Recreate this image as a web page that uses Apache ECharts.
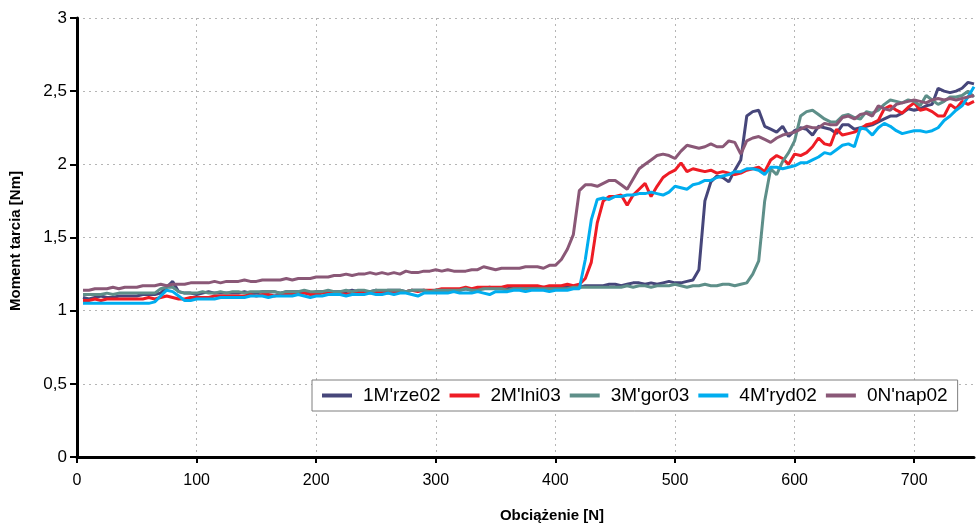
<!DOCTYPE html>
<html>
<head>
<meta charset="utf-8">
<script src="https://cdn.jsdelivr.net/npm/echarts@6/dist/echarts.min.js"></script>
<style>html,body{margin:0;padding:0;background:#fff}#c{width:976px;height:524px}</style>
</head>
<body>
<div id="c"></div>
<script>
const loads = [5,10,15,20,25,30,35,40,45,50,55,60,65,70,75,80,85,90,95,100,
105,110,115,120,125,130,135,140,145,150,155,160,165,170,175,180,185,190,195,200,
205,210,215,220,225,230,235,240,245,250,255,260,265,270,275,280,285,290,295,300,
305,310,315,320,325,330,335,340,345,350,355,360,365,370,375,380,385,390,395,400,
405,410,415,420,425,430,435,440,445,450,455,460,465,470,475,480,485,490,495,500,
505,510,515,520,525,530,535,540,545,550,555,560,565,570,575,580,585,590,595,600,
605,610,615,620,625,630,635,640,645,650,655,660,665,670,675,680,685,690,695,700,
705,710,715,720,725,730,735,740,745,750];

const rze02 = [1.09,1.08,1.09,1.1,1.09,1.09,1.1,1.1,1.1,1.1,1.11,1.11,1.11,1.12,1.16,1.2,1.13,1.12,1.12,1.11,
1.12,1.13,1.12,1.12,1.12,1.12,1.12,1.13,1.12,1.12,1.13,1.13,1.13,1.12,1.13,1.13,1.13,1.13,1.12,1.13,
1.13,1.13,1.13,1.13,1.13,1.14,1.13,1.13,1.13,1.14,1.13,1.14,1.14,1.14,1.13,1.14,1.14,1.14,1.13,1.14,
1.14,1.14,1.14,1.14,1.15,1.14,1.15,1.15,1.16,1.15,1.15,1.15,1.16,1.15,1.16,1.16,1.16,1.16,1.15,1.16,
1.16,1.16,1.16,1.16,1.17,1.17,1.17,1.17,1.18,1.18,1.17,1.18,1.19,1.19,1.18,1.19,1.18,1.19,1.2,1.19,
1.19,1.2,1.21,1.28,1.75,1.88,1.92,1.91,1.88,1.96,2.03,2.33,2.36,2.37,2.26,2.24,2.22,2.26,2.19,2.23,
2.25,2.24,2.2,2.26,2.25,2.24,2.21,2.27,2.27,2.24,2.25,2.26,2.27,2.29,2.31,2.33,2.33,2.35,2.38,2.37,
2.38,2.4,2.41,2.52,2.5,2.49,2.5,2.52,2.56,2.55];

const lni03 = [1.07,1.07,1.08,1.07,1.08,1.08,1.08,1.08,1.08,1.08,1.08,1.09,1.08,1.09,1.1,1.09,1.08,1.08,1.09,1.09,
1.09,1.09,1.1,1.1,1.1,1.1,1.1,1.1,1.11,1.1,1.11,1.11,1.1,1.11,1.11,1.11,1.11,1.12,1.11,1.11,
1.12,1.12,1.12,1.12,1.11,1.12,1.12,1.13,1.12,1.13,1.13,1.12,1.13,1.13,1.13,1.14,1.13,1.14,1.14,1.14,
1.15,1.15,1.15,1.15,1.16,1.15,1.16,1.16,1.16,1.16,1.16,1.17,1.17,1.17,1.17,1.17,1.17,1.16,1.17,1.17,
1.17,1.18,1.17,1.18,1.22,1.33,1.6,1.75,1.78,1.78,1.79,1.72,1.79,1.83,1.87,1.78,1.85,1.91,1.94,1.96,
2.01,1.95,1.97,1.96,1.95,1.96,1.94,1.95,1.94,1.93,1.94,1.96,1.97,1.98,1.95,2.03,2.06,2.04,2.0,2.07,
2.06,2.08,2.12,2.18,2.14,2.13,2.24,2.2,2.21,2.22,2.24,2.27,2.28,2.3,2.38,2.4,2.37,2.35,2.39,2.42,
2.37,2.38,2.36,2.33,2.33,2.41,2.38,2.43,2.41,2.43];

const gor03 = [1.11,1.11,1.11,1.11,1.12,1.11,1.12,1.12,1.12,1.12,1.12,1.12,1.12,1.15,1.16,1.16,1.13,1.12,1.12,1.12,
1.13,1.12,1.12,1.13,1.12,1.13,1.13,1.12,1.13,1.13,1.13,1.13,1.13,1.12,1.13,1.13,1.13,1.14,1.13,1.13,
1.13,1.14,1.13,1.13,1.14,1.13,1.14,1.14,1.13,1.14,1.14,1.14,1.14,1.14,1.13,1.14,1.14,1.14,1.13,1.14,
1.14,1.14,1.14,1.14,1.15,1.14,1.14,1.15,1.15,1.15,1.15,1.14,1.15,1.15,1.15,1.15,1.15,1.15,1.15,1.15,
1.15,1.15,1.16,1.16,1.16,1.16,1.16,1.16,1.16,1.16,1.16,1.17,1.16,1.17,1.17,1.16,1.17,1.17,1.17,1.18,
1.17,1.16,1.17,1.17,1.18,1.17,1.17,1.18,1.18,1.17,1.18,1.19,1.25,1.34,1.75,1.97,1.93,2.02,2.08,2.16,
2.33,2.36,2.37,2.34,2.31,2.29,2.29,2.33,2.34,2.32,2.31,2.36,2.35,2.37,2.41,2.44,2.43,2.42,2.44,2.43,
2.4,2.47,2.44,2.41,2.43,2.46,2.46,2.47,2.5,2.46];

const ryd02 = [1.05,1.05,1.05,1.05,1.05,1.05,1.05,1.05,1.05,1.05,1.05,1.05,1.06,1.1,1.14,1.13,1.1,1.07,1.07,1.08,
1.08,1.08,1.08,1.09,1.09,1.09,1.09,1.09,1.1,1.1,1.1,1.09,1.1,1.1,1.1,1.1,1.11,1.1,1.09,1.1,
1.1,1.11,1.11,1.11,1.1,1.11,1.11,1.11,1.12,1.11,1.11,1.12,1.11,1.12,1.12,1.11,1.1,1.12,1.12,1.12,
1.12,1.12,1.13,1.12,1.12,1.12,1.13,1.12,1.11,1.13,1.13,1.13,1.14,1.14,1.13,1.14,1.14,1.14,1.13,1.14,
1.14,1.14,1.15,1.15,1.35,1.62,1.76,1.77,1.76,1.78,1.78,1.79,1.79,1.8,1.8,1.81,1.8,1.79,1.81,1.85,
1.84,1.83,1.86,1.87,1.89,1.89,1.91,1.92,1.93,1.95,1.95,1.97,1.97,1.96,1.93,1.98,1.98,1.97,1.98,1.99,
2.01,2.01,2.03,2.05,2.08,2.07,2.1,2.13,2.14,2.12,2.25,2.24,2.2,2.25,2.28,2.26,2.23,2.21,2.22,2.23,
2.23,2.22,2.23,2.25,2.3,2.33,2.37,2.4,2.46,2.53];

const nap02 = [1.14,1.14,1.15,1.15,1.15,1.16,1.15,1.16,1.16,1.16,1.17,1.17,1.17,1.18,1.17,1.18,1.18,1.18,1.19,1.19,
1.19,1.19,1.2,1.19,1.2,1.2,1.2,1.21,1.2,1.2,1.21,1.21,1.21,1.21,1.22,1.21,1.22,1.22,1.22,1.23,
1.23,1.23,1.24,1.24,1.25,1.24,1.25,1.25,1.26,1.25,1.26,1.25,1.26,1.25,1.27,1.26,1.26,1.27,1.27,1.28,
1.27,1.28,1.27,1.27,1.27,1.28,1.28,1.3,1.29,1.28,1.29,1.29,1.29,1.29,1.3,1.3,1.3,1.29,1.31,1.31,
1.35,1.42,1.52,1.82,1.86,1.86,1.85,1.87,1.89,1.89,1.86,1.83,1.9,1.97,2.0,2.03,2.06,2.07,2.06,2.04,
2.09,2.13,2.12,2.11,2.12,2.14,2.12,2.12,2.16,2.15,2.07,2.16,2.18,2.19,2.17,2.15,2.18,2.2,2.21,2.22,
2.24,2.26,2.25,2.25,2.28,2.27,2.27,2.32,2.33,2.31,2.34,2.35,2.33,2.4,2.38,2.37,2.41,2.42,2.43,2.44,
2.43,2.42,2.44,2.45,2.44,2.45,2.44,2.45,2.46,2.47];

const seriesNames = ["1M'rze02", "2M'lni03", "3M'gor03", "4M'ryd02", "0N'nap02"];
const seriesValues = [rze02, lni03, gor03, ryd02, nap02];
const seriesColors = ['#46467a', '#ee1c25', '#5e8f89', '#00adef', '#8a5877'];
const xTicks = [0, 100, 200, 300, 400, 500, 600, 700];

const chart = echarts.init(document.getElementById('c'), null, {renderer: 'canvas'});
const FONT = "'Liberation Sans', Arial, sans-serif";

chart.setOption({
  animation: false,
  backgroundColor: '#ffffff',
  grid: {left: 77, right: 2, top: 18, bottom: 67, containLabel: false},
  legend: {
    data: seriesNames,
    left: 312, top: 380,
    padding: [6, 10, 6, 10],
    borderColor: '#7f7f7f', borderWidth: 1,
    backgroundColor: '#ffffff',
    icon: 'rect', itemWidth: 30, itemHeight: 4, itemGap: 9,
    textStyle: {fontFamily: FONT, fontSize: 19, color: '#000', padding: [0, 0, 0, 6]}
  },
  graphic: [
    {type: 'text', position: [552, 516], style: {text: 'Obciążenie [N]', fontFamily: FONT, fontWeight: 'bold', fontSize: 15, fill: '#000', align: 'center', verticalAlign: 'middle'}, z: 10},
    {type: 'text', rotation: Math.PI / 2, position: [16, 241], style: {text: 'Moment tarcia [Nm]', fontFamily: FONT, fontWeight: 'bold', fontSize: 15, fill: '#000', align: 'center', verticalAlign: 'middle'}, z: 10}
  ],
  xAxis: {
    type: 'value', min: 0, max: 750, interval: 100,
    axisLine: {show: true, onZero: false, lineStyle: {color: '#000', width: 3}},
    axisTick: {show: true, inside: false, length: 6, lineStyle: {color: '#000', width: 2},
      customValues: xTicks},
    axisLabel: {fontFamily: FONT, fontSize: 16, color: '#000', margin: 16,
      customValues: xTicks},
    splitLine: {show: true, lineStyle: {color: '#b5b5b5', type: [2, 4], width: 1}}
  },
  yAxis: {
    type: 'value', min: 0, max: 3, interval: 0.5,
    axisLine: {show: true, lineStyle: {color: '#000', width: 3}},
    axisTick: {show: true, length: 7, lineStyle: {color: '#000', width: 2}},
    axisLabel: {fontFamily: FONT, fontSize: 17, color: '#000', margin: 10,
      formatter: v => String(v).replace('.', ',')},
    splitLine: {show: true, lineStyle: {color: '#b5b5b5', type: [2, 4], width: 1}}
  },
  series: seriesNames.map((name, i) => ({
    name: name,
    type: 'line',
    data: loads.map((x, j) => [x, seriesValues[i][j]]),
    showSymbol: false,
    symbol: 'none',
    color: seriesColors[i],
    lineStyle: {width: 3, color: seriesColors[i]},
    clip: true
  }))
});
</script>
</body>
</html>
